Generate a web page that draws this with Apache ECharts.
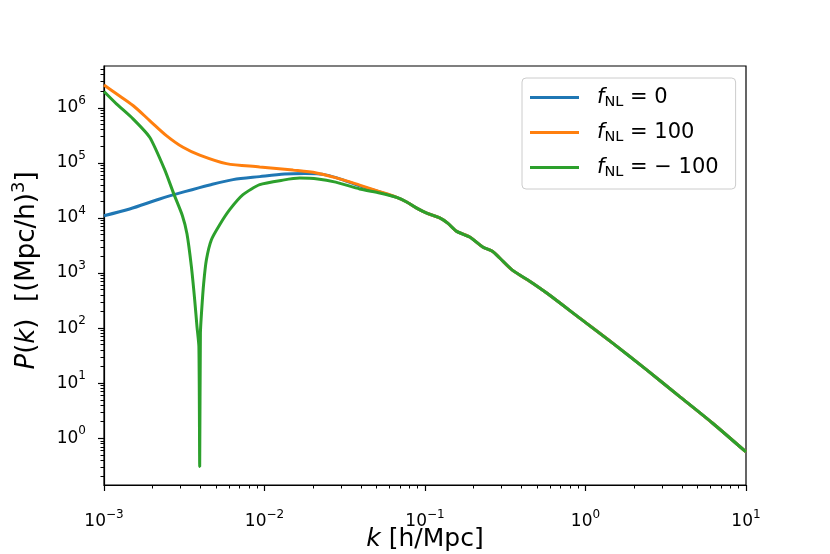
<!DOCTYPE html>
<html>
<head>
<meta charset="UTF-8">
<title>P(k)</title>
<script src="https://cdn.jsdelivr.net/npm/echarts@6/dist/echarts.min.js"></script>
<style>
  html, body { margin: 0; padding: 0; background: #fff; }
  #chart { width: 830px; height: 554px; }
</style>
</head>
<body>
<div id="chart"></div>
<script>
// k [h/Mpc] and P(k)
const kBlue = [0.001, 0.001445, 0.002223, 0.003183, 0.004556, 0.006362, 0.009335, 0.01336, 0.0178, 0.0244, 0.03161, 0.03916, 0.05221];
const pBlue = [11010, 14580, 22150, 30080, 39810, 49700, 56360, 62570, 63900, 60010, 47670, 38170, 29700];

const kOrange = [0.001, 0.001195, 0.001516, 0.001926, 0.002447, 0.003106, 0.003947, 0.005788, 0.009335, 0.01505, 0.02106, 0.02805, 0.03916, 0.05221];
const pOrange = [2.597e6, 1.797e6, 1.101e6, 587500, 313600, 192100, 138600, 97100, 84580, 73960, 65800, 53370, 39470, 30080];

const kGreen = [0.001, 0.001195, 0.001516, 0.001926, 0.002388, 0.002718, 0.00308, 0.00329, 0.003502, 0.003673, 0.003796, 0.003902,
  0.003947, 0.003987, 0.004062, 0.00418, 0.004345, 0.004669, 0.005259, 0.006069, 0.007345, 0.009335, 0.01304, 0.01657, 0.02146,
  0.02777, 0.03916, 0.05221];
const pGreen = [1.979e6, 1.182e6, 631000, 292200, 75510, 27660, 11010, 5118, 1318, 326.9, 106.9, 45.7,
  0.307, 81.1, 215.1, 658, 1745, 4032, 7553, 14160, 26530, 40320, 48690, 52920, 51190,
  44760, 33690, 28480];

// all three curves coincide from here on
const kTail = [0.06664, 0.07691, 0.08878, 0.1025, 0.1235, 0.1385, 0.1576, 0.1899, 0.2288, 0.2641, 0.292, 0.3519, 0.4491, 0.5733, 0.9203, 1.477, 2.406, 3.864, 6.202, 10];
const pTail = [23690, 19540, 15080, 12230, 10000, 8044, 5706, 4512, 2970, 2470, 1874, 1115, 709.4, 432.8, 152.0, 53.37, 17.45, 5.706, 1.874, 0.5636];

const xMajor = [0.001, 0.01, 0.1, 1, 10];
const yMajor = [1, 10, 100, 1e3, 1e4, 1e5, 1e6];
const seriesNames = ['fNL = 0', 'fNL = 100', 'fNL = -100'];
const legendLabels = ['{f|f}{s|NL}{n| = 0}', '{f|f}{s|NL}{n| = 100}', '{f|f}{s|NL}{n| = \u2212 100}'];
const colors = ['#1f77b4', '#ff7f0e', '#2ca02c'];

const FONT = 'DejaVu Sans';
const xMin = 0.001, xMax = 10, yMin = 0.1416, yMax = 5.75e6;

function minorTicks(lo, hi) {
  const out = [];
  for (let e = -4; e <= 7; e++) {
    for (let m = 2; m <= 9; m++) {
      const v = m * Math.pow(10, e);
      if (v > lo && v < hi) out.push(v);
    }
  }
  return out;
}

function pairs(ks, ps) {
  return ks.map((k, i) => [k, ps[i]]);
}

function expLabel(v) {
  const e = Math.round(Math.log10(v));
  return '{b|10}{e|' + (e < 0 ? '\u2212' + (-e) : e) + '}';
}

const tickRich = {
  b: { fontFamily: FONT, fontSize: 17, color: '#000' },
  e: { fontFamily: FONT, fontSize: 12, color: '#000', padding: [0, 0, 14, 0] }
};

const chart = echarts.init(document.getElementById('chart'));

const option = {
  animation: false,
  backgroundColor: '#fff',
  grid: {
    left: 104, top: 66, width: 642, height: 419,
    containLabel: false, outerBoundsMode: 'none',
    show: true, borderColor: '#000', borderWidth: 1.2
  },
  legend: {
    orient: 'vertical',
    left: 522, top: 78,
    padding: [9, 17, 9, 8],
    itemWidth: 49, itemHeight: 26, itemGap: 12,
    icon: 'path://M0,0 L49,0 L49,3 L0,3 Z',
    backgroundColor: 'rgba(255,255,255,0.8)',
    borderColor: '#cccccc', borderWidth: 1, borderRadius: 4,
    data: seriesNames,
    formatter: name => legendLabels[seriesNames.indexOf(name)],
    textStyle: {
      fontFamily: FONT, fontSize: 21, color: '#000',
      rich: {
        f: { fontFamily: FONT, fontSize: 21, fontStyle: 'italic', color: '#000', padding: [0, 0, 0, 13] },
        s: { fontFamily: FONT, fontSize: 14.5, color: '#000', padding: [10, 0, 0, 0] },
        n: { fontFamily: FONT, fontSize: 21, color: '#000' }
      }
    }
  },
  xAxis: [{
    type: 'log', logBase: 10, min: xMin, max: xMax,
    name: '{i|k}{n| [h/Mpc]}', nameLocation: 'middle', nameGap: 42, nameMoveOverlap: false,
    nameTextStyle: {
      rich: {
        i: { fontFamily: FONT, fontSize: 25, fontStyle: 'italic', color: '#000' },
        n: { fontFamily: FONT, fontSize: 25, color: '#000' }
      }
    },
    axisLine: { show: true, lineStyle: { color: '#000', width: 1.2 } },
    axisTick: { show: true, customValues: xMajor, length: 6, lineStyle: { color: '#000', width: 1.2 } },
    axisLabel: { customValues: xMajor, formatter: expLabel, rich: tickRich, margin: 24 },
    splitLine: { show: false }
  }, {
    type: 'log', logBase: 10, min: xMin, max: xMax, position: 'bottom',
    axisLine: { show: false },
    axisTick: { show: true, customValues: minorTicks(xMin, xMax), length: 3.5, lineStyle: { color: '#000', width: 1 } },
    axisLabel: { show: false },
    splitLine: { show: false }
  }],
  yAxis: [{
    type: 'log', logBase: 10, min: yMin, max: yMax,
    name: '{i|P}{n|(}{i|k}{n|)  [(Mpc/h)}{s|3}{n|]}', nameLocation: 'middle', nameGap: 60, nameMoveOverlap: false,
    nameTextStyle: {
      padding: [0, 0, 0, 10],
      rich: {
        i: { fontFamily: FONT, fontSize: 26, fontStyle: 'italic', color: '#000' },
        n: { fontFamily: FONT, fontSize: 26, color: '#000' },
        s: { fontFamily: FONT, fontSize: 18, color: '#000', padding: [0, 0, 16, 0] }
      }
    },
    axisLine: { show: true, lineStyle: { color: '#000', width: 1.2 } },
    axisTick: { show: true, customValues: yMajor, length: 6, lineStyle: { color: '#000', width: 1.2 } },
    axisLabel: { customValues: yMajor, formatter: expLabel, rich: tickRich, margin: 18 },
    splitLine: { show: false }
  }, {
    type: 'log', logBase: 10, min: yMin, max: yMax, position: 'left', offset: 0,
    axisLine: { show: false },
    axisTick: { show: true, customValues: minorTicks(yMin, yMax), length: 3.5, lineStyle: { color: '#000', width: 1 } },
    axisLabel: { show: false },
    splitLine: { show: false }
  }],
  series: [
    { name: seriesNames[0], data: pairs(kBlue.concat(kTail), pBlue.concat(pTail)) },
    { name: seriesNames[1], data: pairs(kOrange.concat(kTail), pOrange.concat(pTail)) },
    { name: seriesNames[2], data: pairs(kGreen.concat(kTail), pGreen.concat(pTail)), smooth: 0.2 }
  ].map((s, i) => Object.assign({
    type: 'line', symbol: 'none', showSymbol: false, smooth: 0.3,
    lineStyle: { color: colors[i], width: 3 },
    itemStyle: { color: colors[i] }
  }, s))
};

chart.setOption(option);
</script>
</body>
</html>
